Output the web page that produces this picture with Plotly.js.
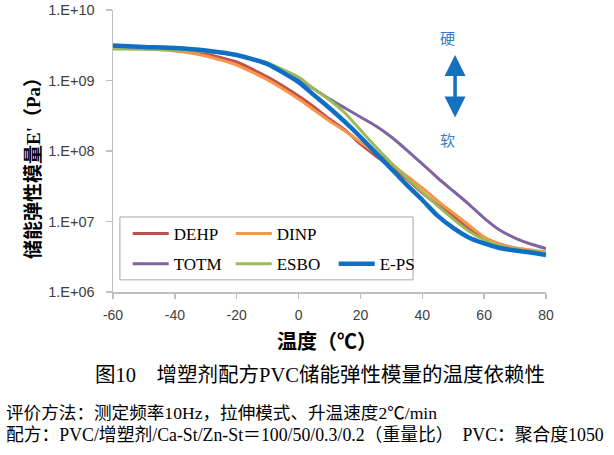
<!DOCTYPE html>
<html>
<head>
<meta charset="utf-8">
<script src="https://cdn.plot.ly/plotly-3.0.1.min.js"></script>
<style>
html,body{margin:0;padding:0;background:#fff;}
#chart{width:614px;height:455px;}
</style>
</head>
<body>
<div id="chart"></div>
<script>
// Temperature (°C)
const temperature = [-60,-50,-40,-30,-20,-10,0,5,10,15,20,25,30,35,40,45,50,55,60,65,70,75,80];
// Storage modulus E' (Pa)
const DEHP = [2.99e9,2.85e9,2.71e9,2.38e9,1.83e9,1.12e9,6.03e8,4.21e8,2.84e8,1.99e8,1.26e8,8.49e7,5.93e7,4.01e7,2.54e7,1.71e7,1.20e7,7.83e6,5.83e6,4.80e6,4.21e6,3.88e6,3.57e6];
const DINP = [2.89e9,2.80e9,2.62e9,2.23e9,1.66e9,1.02e9,5.47e8,3.82e8,2.67e8,1.92e8,1.34e8,9.37e7,6.55e7,4.42e7,2.99e7,1.95e7,1.32e7,8.91e6,6.03e6,4.80e6,4.21e6,3.94e6,3.69e6];
const TOTM = [2.99e9,2.89e9,2.80e9,2.62e9,2.27e9,1.71e9,1.05e9,7.57e8,5.47e8,4.07e8,3.03e8,2.26e8,1.58e8,1.03e8,6.55e7,4.14e7,2.71e7,1.77e7,1.12e7,7.57e6,5.83e6,4.80e6,4.14e6];
const ESBO = [2.80e9,2.77e9,2.71e9,2.58e9,2.30e9,1.77e9,1.12e9,7.57e8,5.29e8,3.46e8,1.99e8,1.14e8,6.76e7,4.14e7,2.62e7,1.66e7,1.08e7,7.33e6,5.47e6,4.49e6,4.07e6,3.82e6,3.57e6];
const EPS  = [3.14e9,2.99e9,2.89e9,2.67e9,2.30e9,1.71e9,9.5e8,6.2e8,4.07e8,2.58e8,1.58e8,9.4e7,5.56e7,3.30e7,2.02e7,1.20e7,8.1e6,5.93e6,4.88e6,4.21e6,3.88e6,3.63e6,3.35e6];

const seriesNames = ['DEHP','DINP','TOTM','ESBO','E-PS'];
const seriesData = [DEHP, DINP, TOTM, ESBO, EPS];
const seriesColors = ['#C0504D','#F79646','#8064A2','#9BBB59','#0F6FC6'];
const seriesWidths = [3,3,3,3,4.5];
const seriesLegend = ['legend','legend','legend2','legend2','legend2'];

const xTickVals = [-60,-40,-20,0,20,40,60,80];
const xTickText = ['-60','-40','-20','0','20','40','60','80'];
const yTickVals = [1e6,1e7,1e8,1e9,1e10];
const yTickText = ['1.E+06','1.E+07','1.E+08','1.E+09','1.E+10'];

const traces = seriesNames.map((n,i)=>({
  type:'scatter', mode:'lines', name:n,
  x: temperature, y: seriesData[i],
  line:{color:seriesColors[i], width:seriesWidths[i], shape:'spline', smoothing:0.5},
  legend: seriesLegend[i]
}));

const cjkSerif = '"Liberation Serif","Noto Sans CJK SC",serif';
const cjkSans = '"Liberation Sans","Noto Sans CJK SC",sans-serif';
const legendFont = {family:'"Liberation Serif",serif', size:17, color:'#000'};

const layout = {
  width:614, height:455,
  margin:{l:113, r:68, t:10, b:163},
  paper_bgcolor:'#fff', plot_bgcolor:'#fff',
  showlegend:true,
  xaxis:{
    range:[-60,80], tickvals:xTickVals, ticktext:xTickText,
    showgrid:false, zeroline:false,
    showline:true, linecolor:'#BFBFBF', linewidth:1.5,
    ticks:'outside', ticklen:5, tickcolor:'#BFBFBF', tickwidth:1.5,
    ticklabelstandoff:5,
    tickfont:{family:'"Liberation Sans",Arial,sans-serif', size:14, color:'#404040'}
  },
  yaxis:{
    type:'log', range:[6,10],
    tickvals:yTickVals, ticktext:yTickText,
    showgrid:false, zeroline:false,
    showline:true, linecolor:'#BFBFBF', linewidth:1.5,
    ticks:'outside', ticklen:6, tickcolor:'#BFBFBF', tickwidth:1.5,
    ticklabelstandoff:8,
    tickfont:{family:'"Liberation Sans",Arial,sans-serif', size:14.5, color:'#404040'}
  },
  legend:{
    x:0.034, y:0.206, xanchor:'left', yanchor:'middle', orientation:'h',
    bgcolor:'rgba(0,0,0,0)', borderwidth:0, font:legendFont,
    entrywidth:52, entrywidthmode:'pixels', itemwidth:36, traceorder:'normal'
  },
  legend2:{
    x:0.034, y:0.099, xanchor:'left', yanchor:'middle', orientation:'h',
    bgcolor:'rgba(0,0,0,0)', borderwidth:0, font:legendFont,
    entrywidth:52, entrywidthmode:'pixels', itemwidth:36, traceorder:'normal'
  },
  shapes:[
    {type:'rect', xref:'paper', yref:'paper', x0:0.016, x1:0.693, y0:0.043, y1:0.266,
     line:{color:'#A6A6A6', width:1}, fillcolor:'#fff', layer:'below'}
  ],
  annotations:[
    {xref:'paper', yref:'paper', x:0.79, y:0.84, ax:0, ay:64, axref:'pixel', ayref:'pixel',
     text:'', showarrow:true, arrowhead:2, startarrowhead:2, arrowside:'end+start',
     arrowwidth:3.5, arrowsize:1.2, startarrowsize:1.2, arrowcolor:'#1570BE'},
    {xref:'paper', yref:'paper', x:(447-113)/433, y:(292-38)/282, text:'硬', showarrow:false,
     font:{family:cjkSans, size:15, color:'#2F7EC7'}, xanchor:'center', yanchor:'middle'},
    {xref:'paper', yref:'paper', x:(447-113)/433, y:(292-140)/282, text:'软', showarrow:false,
     font:{family:cjkSans, size:15, color:'#2F7EC7'}, xanchor:'center', yanchor:'middle'},
    {xref:'paper', yref:'paper', x:(33-113)/433, y:(292-164)/282, text:"<b>储能弹性模量E'（Pa）</b>",
     textangle:-90, showarrow:false, xanchor:'center', yanchor:'middle',
     font:{family:cjkSerif, size:19, color:'#000'}},
    {xref:'paper', yref:'paper', x:(327-113)/433, y:(292-342)/282, text:'<b>温度（℃）</b>',
     showarrow:false, xanchor:'center', yanchor:'middle',
     font:{family:cjkSans, size:20, color:'#000'}},
    {xref:'paper', yref:'paper', x:(320-113)/433, y:(292-375)/282, text:'图10　增塑剂配方PVC储能弹性模量的温度依赖性',
     showarrow:false, xanchor:'center', yanchor:'middle',
     font:{family:cjkSerif, size:20.5, color:'#000'}},
    {xref:'paper', yref:'paper', x:(4-113)/433, y:(292-413)/282, text:'评价方法：测定频率10Hz，拉伸模式、升温速度2℃/min',
     showarrow:false, xanchor:'left', yanchor:'middle',
     font:{family:cjkSerif, size:17.6, color:'#000'}},
    {xref:'paper', yref:'paper', x:(4-113)/433, y:(292-435)/282, text:'配方：PVC/增塑剂/Ca-St/Zn-St＝100/50/0.3/0.2（重量比）　PVC：聚合度1050',
     showarrow:false, xanchor:'left', yanchor:'middle',
     font:{family:cjkSerif, size:17.8, color:'#000'}}
  ]
};

Plotly.newPlot('chart', traces, layout, {displayModeBar:false, staticPlot:true});
</script>
</body>
</html>
